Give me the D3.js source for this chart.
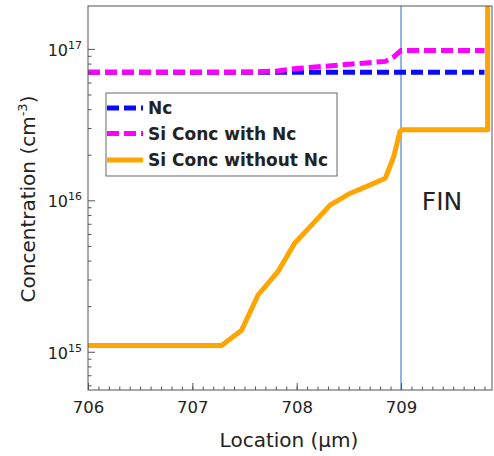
<!doctype html>
<meta charset="utf-8">
<style>
body { margin: 0; background: #fff; }
text { font-family: "DejaVu Sans", sans-serif; fill: #222; }
</style>
<body>
<div id="viz"></div>
<script src="https://cdn.jsdelivr.net/npm/d3@7"></script>
<script>
// data
var ncLoc = [706, 709.8];
var ncVal = [7e16, 7e16];
var withLoc = [706, 707.3, 707.6, 707.8, 708.0, 708.25, 708.5, 708.75, 708.85, 708.93, 709.0, 709.8];
var withVal = [7e16, 7e16, 7.05e16, 7.13e16, 7.43e16, 7.66e16, 7.92e16, 8.17e16, 8.27e16, 8.85e16, 9.75e16, 9.75e16];
var woLoc = [706, 707.28, 707.47, 707.63, 707.82, 707.98, 708.13, 708.32, 708.51, 708.70, 708.85, 708.93, 708.99, 709.01, 709.83, 709.83];
var woVal = [1.1e15, 1.1e15, 1.38e15, 2.37e15, 3.38e15, 5.2e15, 6.7e15, 9.3e15, 1.11e16, 1.26e16, 1.40e16, 1.94e16, 2.85e16, 2.92e16, 2.92e16, 1e18];
var xTicks = [706, 707, 708, 709];
var yTicks = [15, 16, 17];
var finLoc = 709;
var legendNames = ["Nc", "Si Conc with Nc", "Si Conc without Nc"];

var W = 494, H = 456;
var L = 88, R = 492, T = 6, B = 390;

var svg = d3.select("#viz").append("svg").attr("width", W).attr("height", H);

var x = d3.scaleLinear().domain([706, 709.872]).range([L, R]);
var y = d3.scaleLog().domain([5.59e14, 1.92e17]).range([B, T]);

svg.append("clipPath").attr("id", "clip").append("rect")
    .attr("x", L).attr("y", T).attr("width", R - L).attr("height", B - T);

var plot = svg.append("g").attr("clip-path", "url(#clip)");

// FIN boundary
plot.append("line")
    .attr("x1", x(finLoc)).attr("x2", x(finLoc)).attr("y1", T).attr("y2", B)
    .attr("stroke", "#6a9fd8").attr("stroke-width", 1.5);

var line = d3.line().x(function(d) { return x(d[0]); }).y(function(d) { return y(d[1]); });

plot.append("path").datum(d3.zip(ncLoc, ncVal)).attr("d", line)
    .attr("fill", "none").attr("stroke", "#0a0aff").attr("stroke-width", 5).attr("stroke-dasharray", "12,5");
plot.append("path").datum(d3.zip(withLoc, withVal)).attr("d", line)
    .attr("fill", "none").attr("stroke", "#ff00ff").attr("stroke-width", 5).attr("stroke-dasharray", "12,5");
plot.append("path").datum(d3.zip(woLoc, woVal)).attr("d", line)
    .attr("fill", "none").attr("stroke", "#ffa500").attr("stroke-width", 5).attr("stroke-linejoin", "round");

// frame
svg.append("rect").attr("x", L).attr("y", T).attr("width", R - L).attr("height", B - T)
    .attr("fill", "none").attr("stroke", "#555").attr("stroke-width", 1);

// x axis: ticks point inward
var minorX = d3.range(7060, 7099).map(function(v) { return v / 10; });
svg.append("g").attr("transform", "translate(0," + B + ")")
    .call(d3.axisBottom(x).tickValues(minorX).tickSize(-3.5).tickFormat(""))
    .call(function(g) { g.select(".domain").remove(); g.selectAll("line").attr("stroke", "#555"); });
svg.append("g").attr("transform", "translate(0," + B + ")")
    .call(d3.axisBottom(x).tickValues(xTicks).tickSize(-7).tickPadding(11).tickFormat(d3.format("d")))
    .call(function(g) {
        g.select(".domain").remove();
        g.selectAll("line").attr("stroke", "#555");
        g.selectAll("text").attr("font-size", 16.5).attr("font-family", "DejaVu Sans").attr("fill", "#222");
    });

// y axis: log ticks, inward
var minorY = [];
[14, 15, 16, 17].forEach(function(e) {
    for (var k = 2; k <= 9; k++) {
        var v = k * Math.pow(10, e);
        if (v > 5.59e14 && v < 1.92e17) minorY.push(v);
    }
});
svg.append("g").attr("transform", "translate(" + L + ",0)")
    .call(d3.axisLeft(y).tickValues(minorY).tickSize(-3.5).tickFormat(""))
    .call(function(g) { g.select(".domain").remove(); g.selectAll("line").attr("stroke", "#555"); });
svg.append("g").attr("transform", "translate(" + L + ",0)")
    .call(d3.axisLeft(y).tickValues(yTicks.map(function(e) { return Math.pow(10, e); })).tickSize(-7).tickFormat(""))
    .call(function(g) { g.select(".domain").remove(); g.selectAll("line").attr("stroke", "#555"); });

var yl = svg.selectAll(".ylab").data(yTicks).enter().append("text")
    .attr("class", "ylab")
    .attr("x", 82).attr("y", function(d) { return y(Math.pow(10, d)) + 7; })
    .attr("text-anchor", "end").attr("font-size", 16);
yl.append("tspan").text("10");
yl.append("tspan").attr("dy", -7).attr("font-size", 11).text(function(d) { return d; });

// axis titles
svg.append("text").attr("x", 289).attr("y", 447).attr("text-anchor", "middle")
    .attr("font-size", 20).text("Location (µm)");
var yt = svg.append("text").attr("transform", "translate(35,199) rotate(-90)")
    .attr("text-anchor", "middle").attr("font-size", 20);
yt.append("tspan").text("Concentration (cm");
yt.append("tspan").attr("dy", -8).attr("font-size", 13).text("-3");
yt.append("tspan").attr("dy", 8).text(")");

// FIN label
svg.append("text").attr("x", 442).attr("y", 210).attr("text-anchor", "middle")
    .attr("font-family", "Open Sans").attr("font-size", 25).attr("fill", "#333").text("FIN");

// legend
var lg = svg.append("g");
lg.append("rect").attr("x", 106).attr("y", 93).attr("width", 231).attr("height", 83)
    .attr("fill", "#fff").attr("stroke", "#666").attr("stroke-width", 1);
var legColors = ["#0a0aff", "#ff00ff", "#ffa500"];
var legDash = ["12,5", "12,5", null];
var legY = [108, 133.5, 160];
legendNames.forEach(function(n, i) {
    lg.append("line").attr("x1", 107).attr("x2", 143).attr("y1", legY[i]).attr("y2", legY[i])
        .attr("stroke", legColors[i]).attr("stroke-width", 5).attr("stroke-dasharray", legDash[i]);
    lg.append("text").attr("x", 148).attr("y", legY[i] + 6).attr("font-size", 17)
        .attr("font-weight", "bold").attr("fill", "#111").text(n);
});
</script>
</body>
</html>
